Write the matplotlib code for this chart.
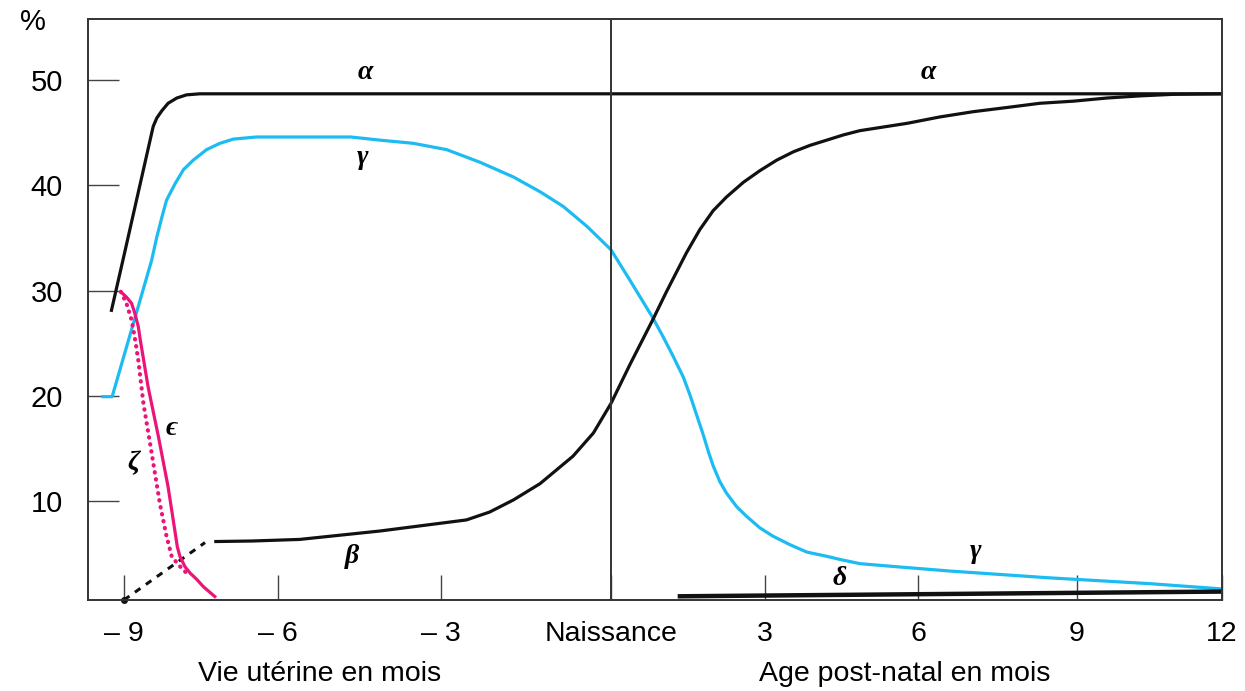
import numpy as np
import matplotlib
matplotlib.use('Agg')
import matplotlib.pyplot as plt

plt.rcParams['font.family'] = ['Liberation Sans Narrow', 'Liberation Sans', 'DejaVu Sans']

# axe des x : mois (negatif = vie uterine), echelle par morceaux comme l'original
tick_mois = [-9, -6, -3, 0, 3, 6, 9, 12]
tick_labels = ['– 9', '– 6', '– 3', 'Naissance', '3', '6', '9', '12']
# position relative des graduations dans la figure d'origine
tick_pos = [124, 278, 441, 611, 765, 918, 1077, 1222]

# chaines de l'hemoglobine (% du total)
alpha_m = [-9.25, -9.02, -8.43, -8.36, -8.26, -8.14, -7.97, -7.78, -7.52, -5.6, 0, 6, 12]
alpha_v = [28.0, 32.9, 45.6, 46.4, 47.1, 47.8, 48.3, 48.6, 48.7, 48.7, 48.7, 48.7, 48.7]

gamma_m = [-9.41, -9.23, -8.46, -8.36, -8.26, -8.17, -8.0, -7.84, -7.65, -7.39, -7.13,
           -6.87, -6.42, -5.76, -4.66, -4.12, -3.51, -2.90, -2.31, -1.72, -1.25, -0.84,
           -0.42, 0, 0.37, 0.82, 1.02, 1.21, 1.41, 1.54, 1.67, 1.80, 1.90, 1.99, 2.12,
           2.25, 2.45, 2.64, 2.90, 3.16, 3.49, 3.82, 4.21, 4.47, 4.86, 5.6, 6.6, 8.49,
           10.51, 12]
gamma_v = [19.95, 19.95, 32.9, 35.1, 37.0, 38.6, 40.2, 41.5, 42.4, 43.4, 44.0,
           44.4, 44.6, 44.6, 44.6, 44.3, 44.0, 43.4, 42.2, 40.8, 39.4, 38.0,
           36.1, 33.9, 31.0, 27.4, 25.6, 23.8, 21.8, 20.1, 18.2, 16.3, 14.7, 13.4, 11.9,
           10.8, 9.5, 8.6, 7.5, 6.7, 5.9, 5.2, 4.8, 4.5, 4.1, 3.8, 3.4, 2.75,
           2.2, 1.7]

beta_pointille_m = [-9.0, -7.42]
beta_pointille_v = [0.65, 6.1]
beta_m = [-7.21, -6.5, -5.6, -4.12, -2.55, -2.14, -1.72, -1.25, -0.67, -0.31, 0, 0.37,
          0.82, 1.08, 1.28, 1.47, 1.73, 1.99, 2.25, 2.58, 2.90, 3.23, 3.56, 3.88, 4.21,
          4.54, 4.86, 5.79, 6.41, 7.04, 7.68, 8.3, 8.93, 9.62, 10.3, 10.99, 12]
beta_v = [6.2, 6.25, 6.4, 7.2, 8.25, 9.0, 10.15, 11.7, 14.3, 16.5, 19.3, 23.0,
          27.3, 29.9, 31.8, 33.6, 35.8, 37.6, 38.9, 40.3, 41.4, 42.4, 43.2, 43.8, 44.3,
          44.8, 45.2, 45.9, 46.5, 47.0, 47.4, 47.8, 48.0, 48.3, 48.5, 48.65, 48.7]

epsilon_m = [-9.06, -8.95, -8.85, -8.79, -8.72, -8.69, -8.53, -8.33, -8.14, -8.01,
             -7.96, -7.91, -7.81, -7.71, -7.58, -7.45, -7.23]
epsilon_v = [29.9, 29.4, 28.8, 27.9, 26.6, 25.6, 20.9, 16.2, 11.4, 7.3,
             5.7, 4.8, 3.8, 3.2, 2.6, 1.9, 0.98]

zeta_m = [-9.06, -8.95, -8.85, -8.79, -8.72, -8.62, -8.46, -8.30, -8.17, -8.07, -7.94, -7.78]
zeta_v = [29.9, 28.8, 27.2, 25.6, 23.4, 19.3, 14.6, 9.8, 6.7, 4.8, 4.0, 3.2]

delta_m = [1.30, 12]
delta_v = [1.0, 1.45]

# etiquettes des courbes
lettres = ['α', 'α', 'γ', 'γ', 'β', 'δ', 'ϵ', 'ζ']
lettres_m = [-4.4, 6.19, -4.45, 7.08, -4.64, 4.46, -8.07, -8.82]
lettres_v = [50.7, 50.7, 42.7, 5.3, 4.8, 2.7, 16.9, 13.7]

# echelle
xm = np.array([-15] + tick_mois + [18], dtype=float)
xp = np.array(tick_pos, dtype=float)
xp = np.concatenate([[xp[0] - 6 * 51.3], xp, [xp[-1] + 6 * 48.3]])

def fwd(x):
    return np.interp(x, xm, xp)

def inv(p):
    return np.interp(p, xp, xm)

noir = '#111111'
cyan = '#1cbcf2'
rose = '#ec1479'

fig = plt.figure(figsize=(12.45, 6.91), dpi=100)
ax = fig.add_axes([0.0707, 0.1317, 0.9108, 0.8408])
ax.set_xscale('function', functions=(fwd, inv))

ax.plot(alpha_m, alpha_v, color=noir, lw=2.3, solid_capstyle='butt', solid_joinstyle='round')
ax.plot(gamma_m, gamma_v, color=cyan, lw=2.3, solid_joinstyle='round')
ax.plot(beta_m, beta_v, color=noir, lw=2.3, solid_joinstyle='round')
ax.plot(beta_pointille_m, beta_pointille_v, color=noir, lw=2.2, ls=(0, (2.2, 2.2)))
ax.plot(beta_pointille_m[:1], beta_pointille_v[:1], 'o', color=noir, ms=4, clip_on=False)
ax.plot(zeta_m, zeta_v, color=rose, lw=3.0, ls=(0, (0.1, 1.6)), dash_capstyle='round')
ax.plot(epsilon_m, epsilon_v, color=rose, lw=2.3, solid_joinstyle='round')
ax.plot(delta_m, delta_v, color=noir, lw=3.2, solid_capstyle='butt')

ax.axvline(0, color='#333333', lw=1.4)

for t, m, v in zip(lettres, lettres_m, lettres_v):
    ax.text(m, v, t, fontsize=20, ha='center', va='center', style='italic', weight='bold',
            family=['Liberation Serif', 'DejaVu Serif'])

ax.set_xlim(-9.7, 12)
ax.set_ylim(0.65, 55.8)
ax.set_xticks(tick_mois)
ax.set_xticklabels(tick_labels)
ax.set_yticks([10, 20, 30, 40, 50])
ax.tick_params(axis='x', direction='in', length=18, width=1, labelsize=20.5, pad=15, color='#444444')
ax.tick_params(axis='y', direction='in', length=22, width=1, labelsize=21, pad=18, color='#444444')
for s in ax.spines.values():
    s.set_color('#333333')
    s.set_linewidth(1.4)

fig.text(33 / 1245, 1 - 22 / 691, '%', fontsize=21, ha='center', va='center')
fig.text(320 / 1245, 1 - 674 / 691, 'Vie utérine en mois', fontsize=20.5, ha='center', va='center')
fig.text(905 / 1245, 1 - 674 / 691, 'Age post-natal en mois', fontsize=20.5, ha='center', va='center')

fig.savefig('out.png', dpi=100)
